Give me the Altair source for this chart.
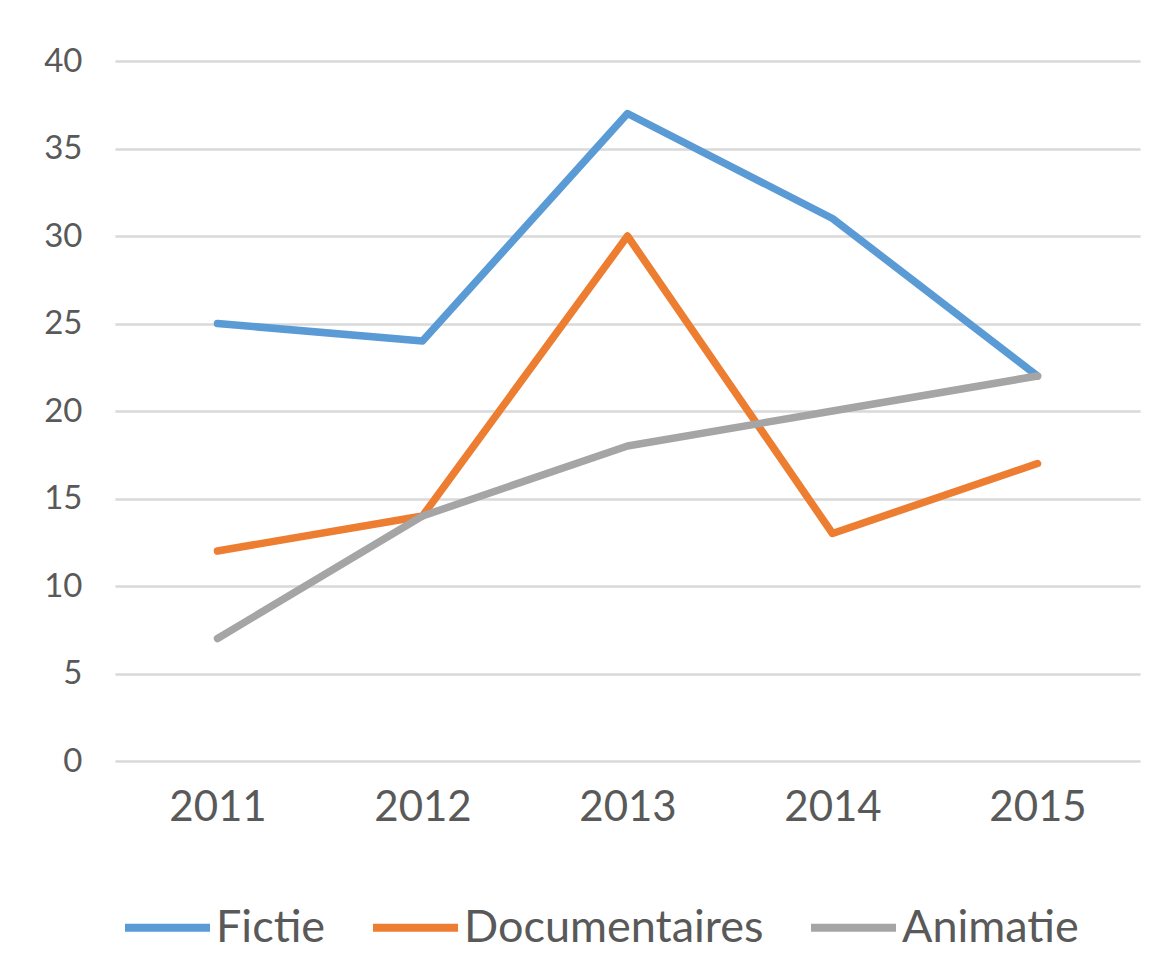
import altair as alt
import pandas as pd

years = ["2011", "2012", "2013", "2014", "2015"]
fictie = [25, 24, 37, 31, 22]
documentaires = [12, 14, 30, 13, 17]
animatie = [7, 14, 18, 20, 22]
series_names = ["Fictie", "Documentaires", "Animatie"]
colors = ["#5B9BD5", "#ED7D31", "#A5A5A5"]

rows = []
for name, vals in zip(series_names, [fictie, documentaires, animatie]):
    for y, v in zip(years, vals):
        rows.append({"year": y, "value": v, "series": name})
df = pd.DataFrame(rows)

FONT = "Lato"

chart = alt.Chart(df).mark_line(strokeWidth=7.5, strokeCap="round", strokeJoin="round").encode(
    x=alt.X("year:N", sort=years,
            scale=alt.Scale(paddingInner=0, paddingOuter=0.5),
            axis=alt.Axis(title=None, labelAngle=0, labelFontSize=42, labelFont=FONT,
                          labelColor="#595959", labelPadding=26, ticks=False, domain=False,
                          grid=False)),
    y=alt.Y("value:Q", scale=alt.Scale(domain=[0, 40], nice=False),
            axis=alt.Axis(title=None, values=[0, 5, 10, 15, 20, 25, 30, 35, 40],
                          labelFontSize=33, labelFont=FONT, labelColor="#595959",
                          labelPadding=33, ticks=False, domain=False,
                          gridColor="#D9D9D9", gridWidth=2.5)),
    color=alt.Color("series:N", sort=series_names,
                    scale=alt.Scale(domain=series_names, range=colors),
                    legend=alt.Legend(title=None, orient="none", direction="horizontal",
                                      legendX=6, legendY=140 + 700 - 20,
                                      symbolType="stroke", symbolSize=7225,
                                      symbolStrokeWidth=8, labelFont=FONT,
                                      labelFontSize=45, labelColor="#595959",
                                      labelOffset=2, columnPadding=31,
                                      labelLimit=0)),
).properties(
    width=1025, height=700,
    background="white",
    autosize=alt.AutoSizeParams(type="none"),
    padding={"left": 107, "top": 53, "right": 23, "bottom": 196},
).configure_view(stroke=None, strokeWidth=0)

chart.save("out.html", embed_options={"renderer": "svg", "actions": False})
